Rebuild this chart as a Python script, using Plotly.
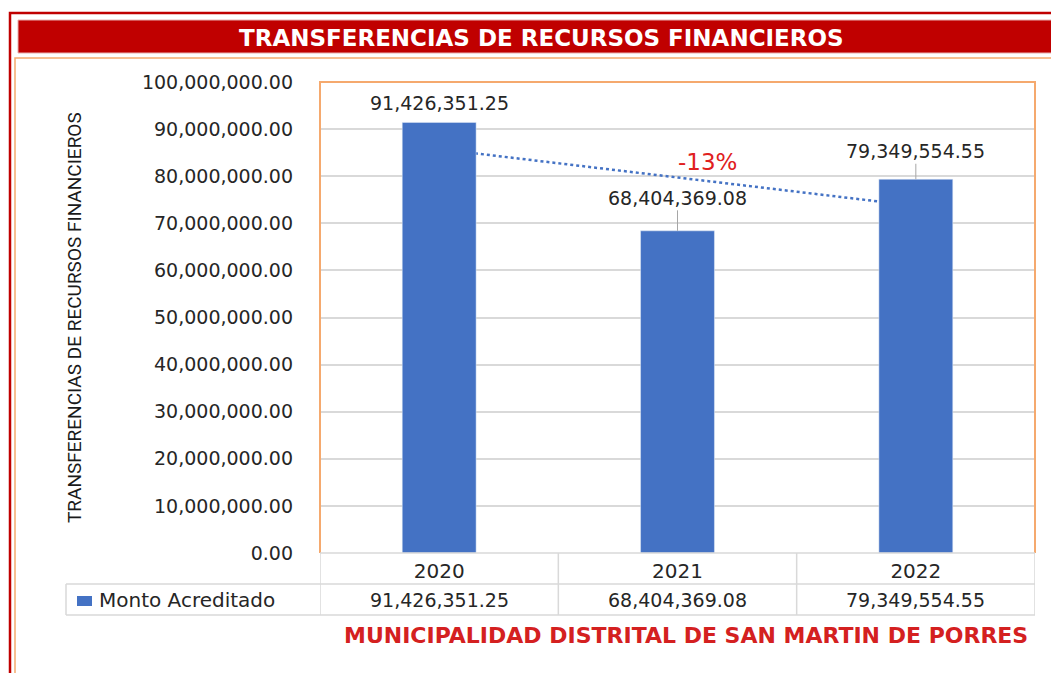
import numpy as np
import plotly.graph_objects as go

# ---- data ----
years = ["2020", "2021", "2022"]
monto = [91426351.25, 68404369.08, 79349554.55]
series_name = "Monto Acreditado"
chart_title = "TRANSFERENCIAS DE RECURSOS FINANCIEROS"
y_title = "TRANSFERENCIAS DE RECURSOS FINANCIEROS"
footer = "MUNICIPALIDAD DISTRITAL DE SAN MARTIN DE PORRES"

# ---- style / layout constants ----
W, H = 1059, 673
OFF = 8  # page body margin compensation
BLUE = "#4472C4"
RED = "#C00000"
ORANGE = "#F5A96E"
GRID = "#D9D9D9"
TXT = "#262626"
NUM_FONT = "DejaVu Sans, Verdana, sans-serif"
NARROW = "Roboto, Liberation Sans, sans-serif"

PLOT_L, PLOT_R, PLOT_T, PLOT_B = 320, 1035, 82, 553
ROW1_B, ROW2_B, TABLE_L = 584, 615, 66


def px(x):
    return (x - OFF) / W


def py(y):
    return 1 - (y - OFF) / H


fmt = lambda v: f"{v:,.2f}"
pos = list(range(len(years)))  # category slots on the x axis

fig = go.Figure()
fig.add_trace(go.Bar(x=pos, y=monto, name=series_name, marker_color=BLUE,
                     width=0.31, showlegend=False))

# linear trendline (Excel-style) from data
slope, icpt = np.polyfit(pos, monto, 1)
trend = [slope * p + icpt for p in pos]

shapes = []
# outer red frame
shapes.append(dict(type="rect", xref="paper", yref="paper", x0=px(10), x1=px(1085),
                   y0=py(13), y1=py(710), line=dict(color=RED, width=2.5), layer="below"))
# title bar
shapes.append(dict(type="rect", xref="paper", yref="paper", x0=px(18), x1=px(1085),
                   y0=py(20), y1=py(53), fillcolor=RED, line=dict(color="#E8B0B0", width=1), layer="below"))
# inner orange frame
shapes.append(dict(type="rect", xref="paper", yref="paper", x0=px(15), x1=px(1085),
                   y0=py(58), y1=py(710), line=dict(color=ORANGE, width=1.5), layer="below"))
# plot-area orange border (left, top, right)
shapes.append(dict(type="path", xref="paper", yref="paper",
                   path=f"M {px(PLOT_L)},{py(PLOT_B)} L {px(PLOT_L)},{py(PLOT_T)} "
                        f"L {px(PLOT_R)},{py(PLOT_T)} L {px(PLOT_R)},{py(PLOT_B)}",
                   line=dict(color=ORANGE, width=2), layer="above"))
# trendline
shapes.append(dict(type="line", xref="x", yref="y", x0=pos[0], x1=pos[-1],
                   y0=trend[0], y1=trend[-1], line=dict(color=BLUE, width=2.5, dash="dot"),
                   layer="between"))
# data table grid
tl = dict(color=GRID, width=1.5)
shapes.append(dict(type="line", xref="paper", yref="paper", x0=px(PLOT_L), x1=px(PLOT_R),
                   y0=py(PLOT_B), y1=py(PLOT_B), line=tl))
for yy in (ROW1_B, ROW2_B):
    shapes.append(dict(type="line", xref="paper", yref="paper", x0=px(TABLE_L), x1=px(PLOT_R),
                       y0=py(yy), y1=py(yy), line=tl))
shapes.append(dict(type="line", xref="paper", yref="paper", x0=px(TABLE_L), x1=px(TABLE_L),
                   y0=py(ROW1_B), y1=py(ROW2_B), line=tl))
for k in range(len(years) + 1):
    shapes.append(dict(type="line", xref="x", yref="paper", x0=k - 0.5, x1=k - 0.5,
                       y0=py(PLOT_B), y1=py(ROW2_B), line=tl))
# legend key
shapes.append(dict(type="rect", xref="paper", yref="paper", x0=px(77), x1=px(92),
                   y0=py(596), y1=py(606), fillcolor=BLUE, line=dict(width=0)))

C = dict(xanchor="center", yanchor="middle", showarrow=False)
ann = []
ann.append(dict(text=chart_title, xref="paper", yref="paper", x=px(541), y=py(38), **C,
                font=dict(family=NUM_FONT, size=23, color="white", weight="bold")))
ann.append(dict(text=footer, xref="paper", yref="paper", x=px(686), y=py(635), **C,
                font=dict(family=NUM_FONT, size=22, color="#D42020", weight="bold")))
ann.append(dict(text=y_title, xref="paper", yref="paper", x=px(75), y=py(318), textangle=-90, **C,
                font=dict(family=NARROW, size=19, color="#1A1A1A")))

# data labels
label_offsets = [19, 33, 28]
leader = [False, True, True]
for p, v, off, ld in zip(pos, monto, label_offsets, leader):
    if ld:
        ann.append(dict(text=fmt(v), x=p, y=v, xref="x", yref="y", showarrow=True,
                        ax=0, ay=-off, arrowhead=0, arrowwidth=1, arrowcolor="#A6A6A6",
                        font=dict(family=NUM_FONT, size=19, color=TXT)))
    else:
        ann.append(dict(text=fmt(v), x=p, y=v, xref="x", yref="y", showarrow=False,
                        yshift=off, font=dict(family=NUM_FONT, size=19, color=TXT)))

pct = (monto[-1] - monto[0]) / monto[0]
ann.append(dict(text=f"{pct:.0%}", x=pos[1], y=trend[1], xref="x", yref="y", xshift=30, yshift=15,
                xanchor="center", yanchor="middle", showarrow=False,
                font=dict(family=NUM_FONT, size=23, color="#E02020")))

# table row
ann.append(dict(text=series_name, xref="paper", yref="paper", x=px(97), y=py(600),
                xanchor="left", yanchor="middle", showarrow=False,
                font=dict(family=NUM_FONT, size=20, color=TXT)))
for p, v in zip(pos, monto):
    ann.append(dict(text=fmt(v), x=p, xref="x", yref="paper", y=py(600), **C,
                    font=dict(family=NUM_FONT, size=19, color=TXT)))

fig.update_layout(
    width=W, height=H, margin=dict(l=0, r=0, t=0, b=0, autoexpand=False),
    paper_bgcolor="white", plot_bgcolor="white",
    shapes=shapes, annotations=ann, showlegend=False,
    xaxis=dict(range=[-0.5, len(years) - 0.5], domain=[px(PLOT_L), px(PLOT_R)], showgrid=False,
               zeroline=False, showline=False, ticks="", ticklabelstandoff=4,
               tickvals=pos, ticktext=years, automargin=False,
               tickfont=dict(family=NUM_FONT, size=20, color=TXT)),
    yaxis=dict(range=[0, 1e8], dtick=1e7, tickformat=",.2f", automargin=False,
               domain=[py(PLOT_B), py(PLOT_T)], gridcolor=GRID, gridwidth=1.5,
               zeroline=False, showline=False, ticks="", ticklabelstandoff=26,
               tickfont=dict(family=NUM_FONT, size=19, color=TXT)),
)

fig.write_html("out.html")
